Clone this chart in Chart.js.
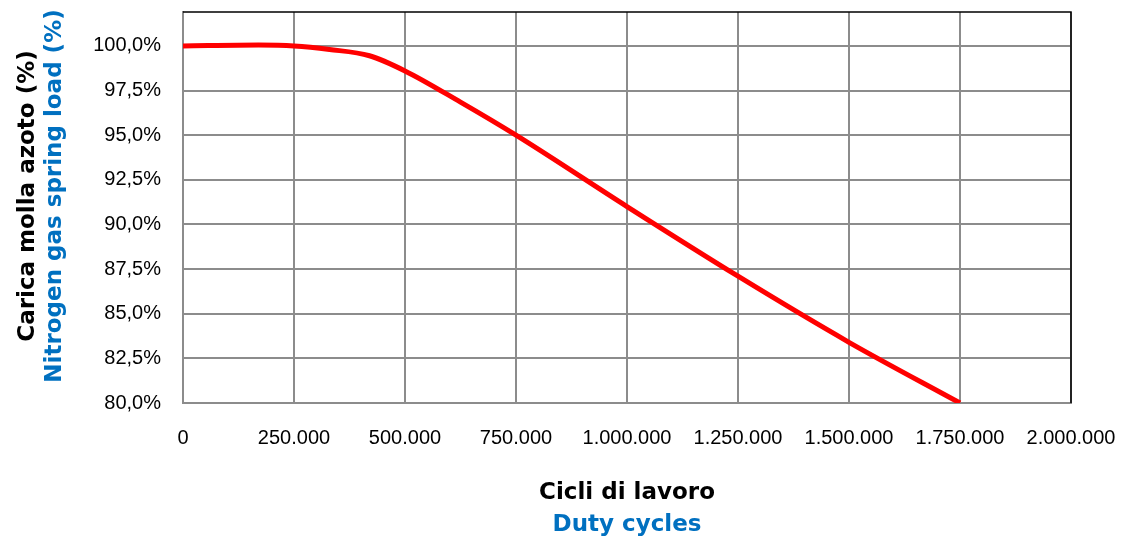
<!DOCTYPE html>
<html>
<head>
<meta charset="utf-8">
<script src="https://cdn.jsdelivr.net/npm/chart.js@4/dist/chart.umd.min.js"></script>
<style>
  html, body { margin: 0; padding: 0; background: #fff; }
  #wrap { width: 1127px; height: 541px; position: relative; }
</style>
</head>
<body>
<div id="wrap"><canvas id="loadChart"></canvas></div>
<script>
// Data
const cycles = [0, 170000, 250000, 330000, 420000, 500000, 625000, 750000, 1000000, 1250000, 1500000, 1750000];
const loadPct = [100.0, 100.05, 100.0, 99.8, 99.45, 98.6, 96.85, 95.0, 91.0, 87.1, 83.4, 80.0];
const xTicks = [0, 250000, 500000, 750000, 1000000, 1250000, 1500000, 1750000, 2000000];
const yTicks = [80, 82.5, 85, 87.5, 90, 92.5, 95, 97.5, 100];

const yTitles = ['Carica molla azoto (%)', 'Nitrogen gas spring load (%)'];
const xTitles = ['Cicli di lavoro', 'Duty cycles'];

const BLUE = '#0070C0';
const GRID = '#8c8c8c';
const TITLE_FONT = 'bold 23px "DejaVu Sans", sans-serif';

function fmtThousands(v) {
  return String(Math.round(v)).replace(/\B(?=(\d{3})+(?!\d))/g, '.');
}

// label overflow padding would push the plot area in; the reference has none
function noPadding(scale) {
  scale.paddingLeft = 0;
  scale.paddingRight = 0;
  scale.paddingTop = 0;
  scale.paddingBottom = 0;
}

// Draws the two-colour axis titles and the black top/right frame
const decorations = {
  id: 'decorations',
  afterDraw(chart) {
    const ctx = chart.ctx;
    const area = chart.chartArea;
    ctx.save();

    // frame: top and right edges are black in the original
    ctx.strokeStyle = '#000';
    ctx.lineWidth = 1.5;
    ctx.beginPath();
    ctx.moveTo(area.left, area.top);
    ctx.lineTo(area.right, area.top);
    ctx.lineTo(area.right, area.bottom);
    ctx.stroke();

    ctx.font = TITLE_FONT;
    ctx.textAlign = 'center';
    ctx.textBaseline = 'middle';

    // y titles, rotated
    const yMid = 196;
    ctx.save();
    ctx.translate(28, yMid);
    ctx.rotate(-Math.PI / 2);
    ctx.fillStyle = '#000';
    ctx.fillText(yTitles[0], 0, 0);
    ctx.restore();
    ctx.save();
    ctx.translate(55, yMid);
    ctx.rotate(-Math.PI / 2);
    ctx.fillStyle = BLUE;
    ctx.fillText(yTitles[1], 0, 0);
    ctx.restore();

    // x titles
    const xMid = (area.left + area.right) / 2;
    ctx.fillStyle = '#000';
    ctx.fillText(xTitles[0], xMid, 493);
    ctx.fillStyle = BLUE;
    ctx.fillText(xTitles[1], xMid, 525);

    ctx.restore();
  }
};

new Chart(document.getElementById('loadChart'), {
  type: 'line',
  data: {
    datasets: [{
      data: cycles.map((c, i) => ({ x: c, y: loadPct[i] })),
      borderColor: '#FF0000',
      borderWidth: 5,
      pointRadius: 0,
      tension: 0.25,
      cubicInterpolationMode: 'monotone',
      fill: false
    }]
  },
  options: {
    responsive: true,
    maintainAspectRatio: false,
    animation: false,
    layout: { padding: { top: 12, right: 56, left: 0, bottom: 0 } },
    plugins: {
      legend: { display: false },
      tooltip: { enabled: false }
    },
    scales: {
      x: {
        type: 'linear',
        min: 0,
        max: 2000000,
        afterBuildTicks(scale) { scale.ticks = xTicks.map(v => ({ value: v })); },
        afterFit(scale) { scale.height = 138; noPadding(scale); },
        grid: { color: GRID, lineWidth: 2, drawTicks: false },
        border: { color: GRID, width: 2 },
        ticks: {
          padding: 23,
          color: '#000',
          font: { family: '"Liberation Sans", Arial, sans-serif', size: 20 },
          maxRotation: 0,
          callback: v => fmtThousands(v)
        }
      },
      y: {
        type: 'linear',
        min: 80,
        max: 101.9,
        afterBuildTicks(scale) { scale.ticks = yTicks.map(v => ({ value: v })); },
        afterFit(scale) { scale.width = 183; noPadding(scale); },
        grid: { color: GRID, lineWidth: 2, drawTicks: false },
        border: { color: GRID, width: 2 },
        ticks: {
          padding: 22,
          color: '#000',
          font: { family: '"Liberation Sans", Arial, sans-serif', size: 20 },
          callback: v => v.toFixed(1).replace('.', ',') + '%'
        }
      }
    }
  },
  plugins: [decorations]
});
</script>
</body>
</html>
